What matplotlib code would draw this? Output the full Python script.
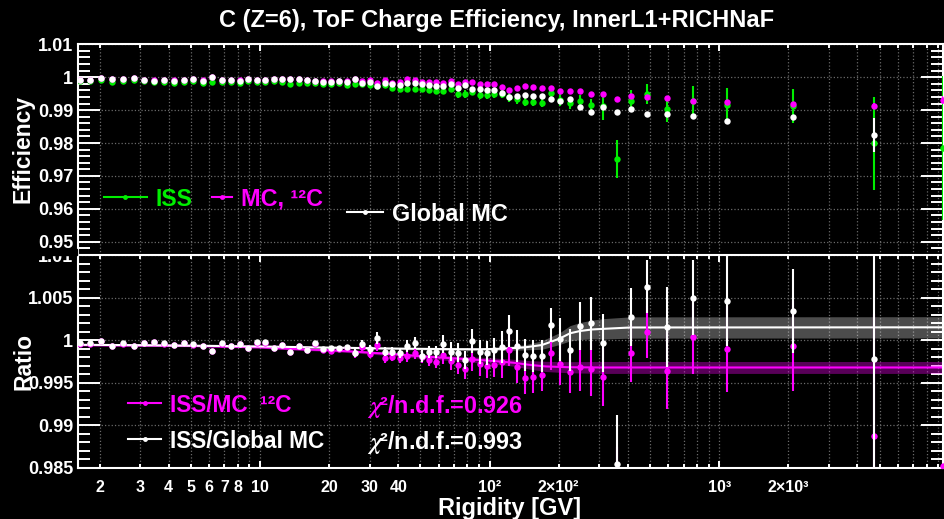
#Eficiencia de carga del ToF para carbono, InnerL1+RICHNaF
#panel superior: eficiencias, panel inferior: cocientes ISS/MC con ajuste

import numpy as np
import matplotlib.pyplot as plt
from matplotlib.ticker import FixedLocator, FixedFormatter, MultipleLocator, FuncFormatter
from matplotlib.patches import Rectangle

plt.rcParams['font.family'] = ['Liberation Sans', 'DejaVu Sans']
plt.rcParams['font.weight'] = 'bold'
plt.rcParams['mathtext.fontset'] = 'stix'

#Datos
rigidity = [1.64, 1.81, 2.04, 2.27, 2.53, 2.83, 3.13, 3.46, 3.83, 4.23,
            4.67, 5.12, 5.65, 6.20, 6.81, 7.48, 8.16, 8.89, 9.70, 10.55,
            11.47, 12.47, 13.55, 14.79, 16.07, 17.36, 18.81, 20.38, 22.09, 23.86,
            25.85, 27.90, 30.14, 32.42, 35.03, 37.69, 40.60, 43.80, 47.19, 50.61,
            54.46, 58.61, 62.85, 67.70, 72.85, 78.39, 84.08, 90.55, 97.43, 104.8,
            112.9, 121.8, 131.2, 142.6, 155.0, 168.6, 184.6, 203.2, 223.9, 248.3,
            276.5, 312.7, 357.8, 413.0, 485.0, 594.0, 771.0, 1081.0, 2096.0, 4722.0,
            9400.0]

iss_eff = [0.99884, 0.99884, 0.99915, 0.99863, 0.99894, 0.99915, 0.99884, 0.99863, 0.99854, 0.99833,
           0.99863, 0.99894, 0.99833, 0.99854, 0.99863, 0.99854, 0.99833, 0.99884, 0.99863, 0.99863,
           0.99884, 0.99854, 0.99793, 0.99815, 0.99815, 0.99833, 0.99793, 0.99793, 0.99815, 0.99763,
           0.99784, 0.99784, 0.99763, 0.99740, 0.99763, 0.99662, 0.99641, 0.99632, 0.99632, 0.99632,
           0.99611, 0.99590, 0.99590, 0.99632, 0.99489, 0.99489, 0.99559, 0.99459, 0.99459, 0.99489,
           0.99500, 0.99389, 0.99328, 0.99255, 0.99255, 0.99225, 0.99511, 0.99300, 0.99207, 0.99286,
           0.99155, 0.99125, 0.97514, 0.99286, 0.99489, 0.99033, 0.99268, 0.99155, 0.99125, 0.97991,
           0.97850]
iss_err = [0.0002, 0.0002, 0.0002, 0.0002, 0.0002, 0.0002, 0.0002, 0.0002, 0.0002, 0.0002,
           0.0002, 0.0002, 0.0002, 0.0002, 0.0002, 0.0002, 0.0002, 0.0002, 0.0002, 0.0002,
           0.0002, 0.0002, 0.0002, 0.0002, 0.0002, 0.0002, 0.0002, 0.0002, 0.0002, 0.0002,
           0.0004, 0.0004, 0.0004, 0.0004, 0.0004, 0.0004, 0.0004, 0.0007, 0.0007, 0.0007,
           0.0007, 0.0007, 0.0007, 0.0007, 0.0011, 0.0011, 0.0011, 0.0011, 0.0011, 0.0011,
           0.0014, 0.0014, 0.0014, 0.0014, 0.0014, 0.0014, 0.0018, 0.0018, 0.0018, 0.0018,
           0.0018, 0.0044, 0.0057, 0.0034, 0.0031, 0.0040, 0.0047, 0.0053, 0.0053, 0.0142,
           0.0218]

mc12_eff = [0.9992, 0.9992, 0.9997, 0.9994, 0.9994, 0.9997, 0.9992, 0.9990, 0.9992, 0.9990,
            0.9992, 0.9994, 0.9990, 1.0000, 0.9992, 0.9992, 0.9990, 0.9994, 0.9992, 0.9992,
            0.9996, 0.9994, 0.9994, 0.9994, 0.9992, 0.9989, 0.9987, 0.9987, 0.9989, 0.9988,
            0.9994, 0.9988, 0.9990, 0.99833, 0.99915, 0.99833, 0.99863, 0.99936, 0.99915, 0.99863,
            0.99863, 0.99863, 0.99833, 0.99894, 0.99793, 0.99863, 0.99863, 0.99793, 0.99793, 0.99793,
            0.99693, 0.99611, 0.99662, 0.99733, 0.99693, 0.99662, 0.99662, 0.99590, 0.99590, 0.99590,
            0.99480, 0.99480, 0.99337, 0.99429, 0.99407, 0.99377, 0.99277, 0.99255, 0.99176, 0.99125,
            0.99307]
mc12_err = [0.0001, 0.0001, 0.0001, 0.0001, 0.0001, 0.0001, 0.0001, 0.0001, 0.0001, 0.0001,
            0.0001, 0.0001, 0.0001, 0.0001, 0.0001, 0.0001, 0.0001, 0.0001, 0.0001, 0.0001,
            0.0001, 0.0001, 0.0001, 0.0001, 0.0001, 0.0001, 0.0001, 0.0001, 0.0001, 0.0001,
            0.0001, 0.0001, 0.0001, 0.0001, 0.0001, 0.0001, 0.0001, 0.0001, 0.0001, 0.0001,
            0.0001, 0.0001, 0.0001, 0.0001, 0.0001, 0.0001, 0.0001, 0.0001, 0.0001, 0.0001,
            0.0002, 0.0002, 0.0002, 0.0002, 0.0002, 0.0002, 0.0002, 0.0002, 0.0002, 0.0002,
            0.0002, 0.0002, 0.0003, 0.0003, 0.0003, 0.0004, 0.0004, 0.0005, 0.0005, 0.0008,
            0.0012]

glob_eff = [0.99915, 0.99915, 0.99967, 0.99936, 0.99936, 0.99967, 0.99915, 0.99894, 0.99915, 0.99894,
            0.99915, 0.99936, 0.99894, 0.99997, 0.99915, 0.99915, 0.99894, 0.99936, 0.99915, 0.99915,
            0.99954, 0.99936, 0.99936, 0.99936, 0.99915, 0.99884, 0.99863, 0.99863, 0.99884, 0.99863,
            0.99936, 0.99833, 0.99863, 0.99733, 0.99833, 0.99793, 0.99778, 0.99833, 0.99833, 0.99793,
            0.99763, 0.99733, 0.99733, 0.99793, 0.99662, 0.99763, 0.99632, 0.99632, 0.99611, 0.99611,
            0.99511, 0.99407, 0.99429, 0.99459, 0.99429, 0.99429, 0.99328, 0.99277, 0.99328, 0.99103,
            0.98951, 0.99085, 0.98951, 0.99024, 0.98881, 0.98881, 0.98811, 0.98678, 0.98781, 0.98243,
            np.nan]
glob_err = [0.0001, 0.0001, 0.0001, 0.0001, 0.0001, 0.0001, 0.0001, 0.0001, 0.0001, 0.0001,
            0.0001, 0.0001, 0.0001, 0.0001, 0.0001, 0.0001, 0.0001, 0.0001, 0.0001, 0.0001,
            0.0001, 0.0001, 0.0001, 0.0001, 0.0001, 0.0001, 0.0001, 0.0001, 0.0001, 0.0001,
            0.0001, 0.0001, 0.0001, 0.0001, 0.0001, 0.0001, 0.0001, 0.0001, 0.0001, 0.0001,
            0.0001, 0.0001, 0.0001, 0.0001, 0.0001, 0.0001, 0.0001, 0.0001, 0.0001, 0.0001,
            0.0002, 0.0002, 0.0002, 0.0002, 0.0002, 0.0002, 0.0002, 0.0002, 0.0002, 0.0002,
            0.0002, 0.0002, 0.0004, 0.0004, 0.0004, 0.0005, 0.0005, 0.0006, 0.0006, 0.0052,
            np.nan]

ratio_glob = [0.99962, 0.99962, 0.99993, 0.99934, 0.99962, 0.99934, 0.99969, 0.99981, 0.99962, 0.99942,
              0.99969, 0.99951, 0.99931, 0.99875, 0.99962, 0.99934, 0.99954, 0.99911, 0.99974, 0.99974,
              0.99911, 0.99942, 0.99864, 0.99931, 0.99884, 0.99962, 0.99892, 0.99904, 0.99911, 0.99922,
              0.99852, 0.99954, 0.99892, 1.00021, 0.99864, 0.99864, 0.99845, 0.99931, 0.99962, 0.99817,
              0.99864, 0.99864, 0.99954, 0.99864, 0.99852, 0.99766, 0.99993, 0.99864, 0.99852, 0.99884,
              0.99922, 1.00110, 0.99931, 0.99825, 0.99813, 0.99813, 1.00177, 1.00009, 0.99884, 1.00166,
              1.00197, 0.99969, 0.98543, 1.00268, 1.00628, 1.00150, 1.00498, 1.00463, 1.00342, 0.99774,
              np.nan]
ratio_glob_err = [0.00012, 0.00012, 0.00012, 0.00012, 0.00012, 0.00012, 0.00012, 0.00012, 0.00012, 0.00012,
                  0.00015, 0.00015, 0.00015, 0.00015, 0.00015, 0.00015, 0.00015, 0.00015, 0.00015, 0.00015,
                  0.0002, 0.0002, 0.0002, 0.0002, 0.0002, 0.00025, 0.00025, 0.00025, 0.00025, 0.00025,
                  0.0005, 0.0005, 0.0005, 0.0007, 0.0005, 0.0005, 0.0005, 0.0007, 0.0007, 0.0007,
                  0.0007, 0.0007, 0.0011, 0.0011, 0.0011, 0.0011, 0.0014, 0.0014, 0.0014, 0.0014,
                  0.0019, 0.0019, 0.0019, 0.0019, 0.0019, 0.0019, 0.0020, 0.0025, 0.0025, 0.0028,
                  0.0031, 0.0034, 0.0058, 0.0034, 0.0031, 0.0047, 0.0044, 0.0053, 0.0049, 0.0150,
                  np.nan]

ratio_mc12 = [0.99958, 0.99958, 0.99989, 0.99930, 0.99958, 0.99930, 0.99965, 0.99977, 0.99958, 0.99938,
              0.99965, 0.99947, 0.99927, 0.99871, 0.99958, 0.99930, 0.99950, 0.99907, 0.99970, 0.99970,
              0.99907, 0.99938, 0.99860, 0.99925, 0.99880, 0.99955, 0.99885, 0.99872, 0.99900, 0.99905,
              0.99845, 0.99922, 0.99837, 0.99942, 0.99786, 0.99805, 0.99786, 0.99813, 0.99852, 0.99805,
              0.99766, 0.99746, 0.99825, 0.99758, 0.99707, 0.99657, 0.99774, 0.99719, 0.99690, 0.99707,
              0.99746, 0.99884, 0.99687, 0.99551, 0.99563, 0.99590, 0.99845, 0.99719, 0.99629, 0.99687,
              0.99657, 0.99563, 0.98165, 0.99852, 1.00095, 0.99640, 1.00040, 0.99895, 0.99931, 0.98876,
              0.98520]
ratio_mc12_err = [0.00012, 0.00012, 0.00012, 0.00012, 0.00012, 0.00012, 0.00012, 0.00012, 0.00012, 0.00012,
                  0.00015, 0.00015, 0.00015, 0.00015, 0.00015, 0.00015, 0.00015, 0.00015, 0.00015, 0.00015,
                  0.0002, 0.0002, 0.0002, 0.0002, 0.0002, 0.00025, 0.00025, 0.00025, 0.00025, 0.00025,
                  0.0005, 0.0005, 0.0005, 0.0007, 0.0005, 0.0005, 0.0005, 0.0007, 0.0007, 0.0007,
                  0.0007, 0.0007, 0.0011, 0.0011, 0.0011, 0.0011, 0.0014, 0.0014, 0.0014, 0.0014,
                  0.0019, 0.0019, 0.0019, 0.0019, 0.0019, 0.0019, 0.0020, 0.0025, 0.0025, 0.0028,
                  0.0031, 0.0034, 0.0058, 0.0034, 0.0031, 0.0045, 0.0044, 0.0050, 0.0053, 0.0143,
                  np.nan]

#Curvas de ajuste (nodos) y su banda de incertidumbre
fit_glob_r = [1.6, 3, 6, 10, 20, 40, 70, 90, 110, 125, 143, 155, 169, 185, 203, 224, 248, 280, 313, 410, 9500]
fit_glob = [0.99945, 0.99940, 0.99932, 0.99925, 0.99912, 0.99900, 0.99893, 0.99892, 0.99897, 0.99905,
            0.99915, 0.99928, 0.99942, 0.99980, 1.00021, 1.00080, 1.00107, 1.00125, 1.00132, 1.00148, 1.00150]
fit_glob_band = [0.00008, 0.00008, 0.00008, 0.00009, 0.0001, 0.00012, 0.00015, 0.00018, 0.0002, 0.00025,
                 0.0003, 0.0004, 0.0005, 0.0006, 0.0007, 0.0009, 0.0010, 0.0011, 0.0012, 0.00125, 0.00125]

fit_mc12_r = [1.6, 5, 10, 14, 20, 26, 40, 53, 75, 100, 127, 150, 176, 220, 300, 9500]
fit_mc12 = [0.99942, 0.99932, 0.99915, 0.99895, 0.99880, 0.99864, 0.99830, 0.99805, 0.99780, 0.99758,
            0.99734, 0.99708, 0.99690, 0.99681, 0.99678, 0.99678]
fit_mc12_band = [0.0001, 0.0001, 0.0001, 0.00012, 0.00014, 0.00016, 0.0002, 0.00025, 0.0003, 0.00035,
                 0.0004, 0.0005, 0.0006, 0.00065, 0.0007, 0.0007]

#Etiquetas del eje x (estilo ROOT)
major_ticks = [10, 100, 1000]
major_labels = ['10', '10²', '10³']
minor_ticks = [2, 3, 4, 5, 6, 7, 8, 9, 20, 30, 40, 50, 60, 70, 80, 90,
               200, 300, 400, 500, 600, 700, 800, 900, 2000, 3000, 4000, 5000, 6000, 7000, 8000, 9000]
minor_labels = ['2', '3', '4', '5', '6', '7', '8', '', '20', '30', '40', '', '', '', '', '',
                '2×10²', '', '', '', '', '', '', '', '2×10³', '', '', '', '', '', '', '']

green = '#00ee00'
magenta = '#ff00ff'
white = 'white'

W, H = 945, 519
fig = plt.figure(figsize=(9.45, 5.19), dpi=100, facecolor='black')
x0, x1 = 78, 943.3
ax1 = fig.add_axes([x0 / W, 1 - 255 / H, (x1 - x0) / W, (255 - 44.3) / H], zorder=1)
ax2 = fig.add_axes([x0 / W, 1 - 467.7 / H, (x1 - x0) / W, (467.7 - 255) / H], zorder=2)

yfmt = FuncFormatter(lambda v, p: f"{round(v, 4):g}")

for ax in (ax1, ax2):
    ax.set_facecolor('black')
    ax.set_xscale('log')
    ax.set_xlim(1.612, 9460)
    for s in ax.spines.values():
        s.set_color('white')
        s.set_linewidth(1.5)
    ax.xaxis.set_major_locator(FixedLocator(major_ticks))
    ax.xaxis.set_minor_locator(FixedLocator(minor_ticks))
    ax.grid(True, which='both', axis='x', ls=':', color='#6a6a6a', lw=0.9)
    ax.grid(True, which='major', axis='y', ls=':', color='#6a6a6a', lw=0.9)
    ax.set_axisbelow(True)
    ax.tick_params(axis='y', which='major', direction='in', length=15.8, width=1.4,
                   left=True, right=True, colors='white', labelsize=13, pad=3.5)
    ax.tick_params(axis='y', which='minor', direction='in', length=8.6, width=1.4,
                   left=True, right=True, colors='white')
    ax.yaxis.set_major_formatter(yfmt)

#Panel superior
ax1.set_ylim(1.01 - (255 - 44.3) / 3290, 1.01)
ax1.yaxis.set_major_locator(MultipleLocator(0.01))
ax1.yaxis.set_minor_locator(MultipleLocator(0.002))
ax1.spines['bottom'].set_visible(False)
ax1.tick_params(axis='x', which='major', direction='in', length=5, width=1.4,
                top=True, bottom=False, labelbottom=False, colors='white')
ax1.tick_params(axis='x', which='minor', direction='in', length=2.6, width=1.4,
                top=True, bottom=False, labelbottom=False, colors='white')

ebkw = dict(fmt='o', ms=4.6, elinewidth=1.5, capsize=0, mew=0)
ax1.errorbar(rigidity, iss_eff, yerr=iss_err, color=green, zorder=3, **ebkw)
ax1.errorbar(rigidity, mc12_eff, yerr=mc12_err, color=magenta, zorder=4, **ebkw)
ax1.errorbar(rigidity, glob_eff, yerr=glob_err, color=white, zorder=5, **ebkw)

#Panel inferior
ax2.set_ylim(0.985, 1.01)
ax2.yaxis.set_major_locator(MultipleLocator(0.005))
ax2.yaxis.set_minor_locator(MultipleLocator(0.001))
ax2.tick_params(axis='x', which='major', direction='in', length=5, width=1.4,
                top=True, bottom=True, colors='white', labelsize=11.5, pad=9)
ax2.tick_params(axis='x', which='minor', direction='in', length=2.6, width=1.4,
                top=True, bottom=True, colors='white', labelsize=11.5, pad=9)
ax2.xaxis.set_major_formatter(FixedFormatter(major_labels))
ax2.xaxis.set_minor_formatter(FixedFormatter(minor_labels))

fg = np.array(fit_glob)
fgb = np.array(fit_glob_band)
fm = np.array(fit_mc12)
fmb = np.array(fit_mc12_band)
ax2.fill_between(fit_glob_r, fg - fgb, fg + fgb, color='white', alpha=0.3, lw=0, zorder=1)
ax2.fill_between(fit_mc12_r, fm - fmb, fm + fmb, color=magenta, alpha=0.35, lw=0, zorder=1)
ax2.plot(fit_mc12_r, fit_mc12, color=magenta, lw=1.5, zorder=2)
ax2.plot(fit_glob_r, fit_glob, color=white, lw=1.5, zorder=2)
ax2.errorbar(rigidity, ratio_mc12, yerr=ratio_mc12_err, color=magenta, zorder=3, **ebkw)
ax2.errorbar(rigidity, ratio_glob, yerr=ratio_glob_err, color=white, zorder=4, **ebkw)

#Leyendas
def entrada(ax, xa, xb, y, color, texto, size):
    ax.plot([xa, xb], [y, y], color=color, lw=1.5, transform=ax.transAxes, clip_on=False, zorder=6)
    ax.plot([(xa + xb) / 2], [y], 'o', color=color, ms=3.5, mew=0, transform=ax.transAxes,
            clip_on=False, zorder=6)
    ax.text(xb + 0.0104, y, texto, color=color, fontsize=size, fontweight='bold',
            transform=ax.transAxes, ha='left', va='center_baseline', zorder=6)

def fx(x):
    return (x - x0) / (x1 - x0)

entrada(ax1, fx(104), fx(147), (255 - 196.7) / 210.7, green, 'ISS', 16.5)
entrada(ax1, fx(212), fx(232), (255 - 196.7) / 210.7, magenta, 'MC, ¹²C', 16.8)
entrada(ax1, fx(347), fx(383), (255 - 211.7) / 210.7, white, 'Global MC', 16.8)

entrada(ax2, fx(128), fx(161), (467.7 - 403.3) / 212.7, magenta, 'ISS/MC  ¹²C', 16.3)
entrada(ax2, fx(128), fx(161), (467.7 - 439.3) / 212.7, white, 'ISS/Global MC', 16.3)
ax2.text(fx(367), (467.7 - 403.3) / 212.7, r'$\chi$²/n.d.f.=0.926', color=magenta, fontsize=16.8,
         transform=ax2.transAxes, ha='left', va='center_baseline')
ax2.text(fx(367), (467.7 - 439.3) / 212.7, r'$\chi$²/n.d.f.=0.993', color=white, fontsize=16.8,
         transform=ax2.transAxes, ha='left', va='center_baseline')

#Tapa parcialmente la etiqueta 1.01 del panel inferior
fig.add_artist(Rectangle((0, 1 - 254.5 / H), x0 / W - 0.001, 5.5 / H, transform=fig.transFigure,
                         color='black', zorder=5))

#Títulos
fig.text(497 / W, 1 - 20 / H, 'C (Z=6), ToF Charge Efficiency, InnerL1+RICHNaF', color='white',
         fontsize=17, fontweight='bold', ha='center', va='center')
fig.text(23 / W, 1 - 149 / H, 'Efficiency', color='white', fontsize=16.5, fontweight='bold',
         rotation=90, ha='center', va='center')
fig.text(24 / W, 1 - 362 / H, 'Ratio', color='white', fontsize=16.5, fontweight='bold',
         rotation=90, ha='center', va='center')
fig.text(510 / W, 1 - 508 / H, 'Rigidity [GV]', color='white', fontsize=17, fontweight='bold',
         ha='center', va='center')

fig.savefig('out.png', dpi=100, facecolor='black')
